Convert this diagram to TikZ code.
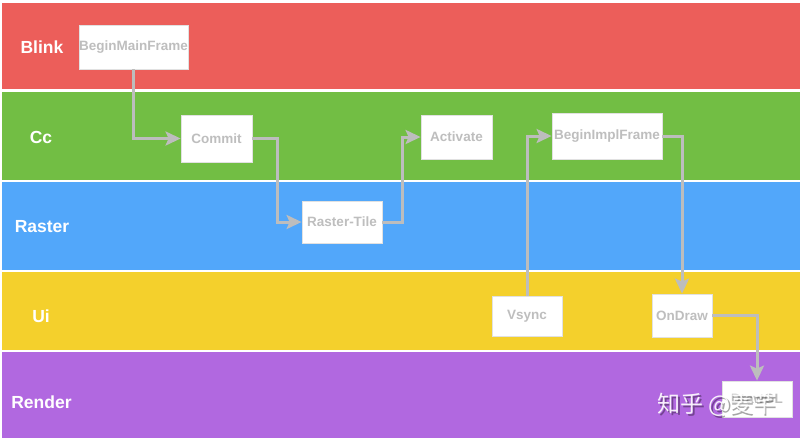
\documentclass[tikz,border=0pt]{standalone}
\usepackage{fontspec}
\setmainfont{Liberation Sans}
\newfontfamily\cjk{Noto Sans CJK SC}
\usetikzlibrary{arrows.meta}
\definecolor{blinkc}{RGB}{236,94,90}
\definecolor{ccc}{RGB}{114,190,68}
\definecolor{rasterc}{RGB}{82,167,250}
\definecolor{uic}{RGB}{244,208,44}
\definecolor{renderc}{RGB}{177,104,224}
\definecolor{boxtext}{RGB}{190,190,190}
\definecolor{boxline}{RGB}{225,225,225}
\definecolor{connc}{RGB}{189,189,189}
\begin{document}
\begin{tikzpicture}[x=1pt,y=-1pt,
  lanelabel/.style={font=\bfseries\fontsize{17.5}{17.5}\selectfont, text=white, inner sep=0pt},
  box/.style={draw=boxline, fill=white, line width=0.8pt, inner sep=0pt,
    font=\bfseries\fontsize{13.5}{13.5}\selectfont, text=boxtext},
  conn/.style={draw=connc, line width=3pt, line join=miter,
    -{Stealth[length=15pt,width=14pt,inset=3pt]}}]
\useasboundingbox (0,0) rectangle (802,440);
\fill[white] (0,0) rectangle (802,440);
% lanes
\fill[blinkc] (2,3) rectangle (800,89);
\fill[ccc] (2,92) rectangle (800,180);
\fill[rasterc] (2,182) rectangle (800,270);
\fill[uic] (2,272) rectangle (800,350);
\fill[renderc] (2,352) rectangle (800,438);
% lane labels
\node[lanelabel] (lblink) at (42,47) {Blink};
\node[lanelabel] (lcc) at (41,137) {Cc};
\node[lanelabel] (lraster) at (42,227) {Raster};
\node[lanelabel] (lui) at (41,316) {Ui};
\node[lanelabel] (lrender) at (41.5,402) {Render};
% boxes
\node[box, minimum width=109pt, minimum height=44pt] (bmf) at (133.5,47) {BeginMainFrame};
\node[box, minimum width=71pt, minimum height=47pt] (commit) at (216.5,138.5) {Commit};
\node[box, minimum width=80pt, minimum height=42pt] (raster) at (342,222) {Raster-Tile};
\node[box, minimum width=71pt, minimum height=44pt] (activate) at (456.5,137) {Activate};
\node[box, minimum width=110pt, minimum height=46pt] (bif) at (607,136) {BeginImplFrame};
\node[box, minimum width=70pt, minimum height=40pt] (vsync) at (527,316) {Vsync};
\node[box, minimum width=60pt, minimum height=43pt] (ondraw) at (682,315.5) {OnDraw};
\node[box, minimum width=70pt, minimum height=36pt] (drawgl) at (757,399) {DrawGL};
% connectors
\draw[conn] (bmf.south) |- (commit.west);
\draw[conn] (commit.east) -- ++(25,0) |- (raster.west);
\draw[conn] (raster.east) -- ++(20,0) |- (activate.west);
\draw[conn] (vsync.north) |- (bif.west);
\draw[conn] (bif.east) -| (ondraw.north);
\draw[conn] (ondraw.east) -| (drawgl.north);
% watermark
\node[font=\cjk\fontsize{23}{23}\selectfont, text=black, opacity=0.35, inner sep=0pt] (wmshadow) at (718.5,406.5) {知乎 @麦芊};
\node[font=\cjk\fontsize{23}{23}\selectfont, text=white, opacity=0.9, inner sep=0pt] (wm) at (717,405) {知乎 @麦芊};
\end{tikzpicture}
\end{document}
